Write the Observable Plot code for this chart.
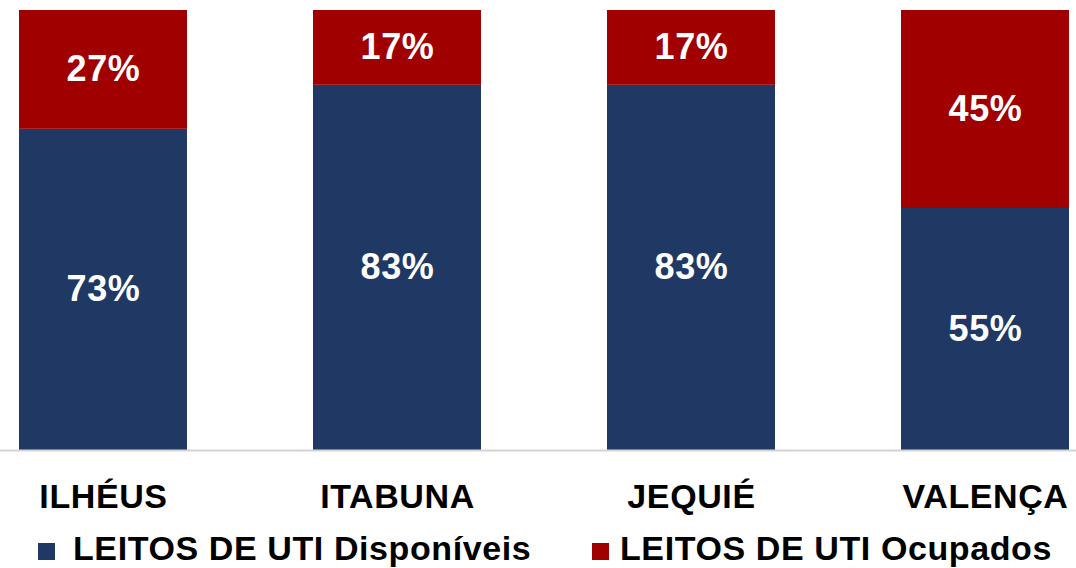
<!DOCTYPE html>
<html>
<head>
<meta charset="utf-8">
<script src="https://cdn.jsdelivr.net/npm/d3@7"></script>
<script src="https://cdn.jsdelivr.net/npm/@observablehq/plot@0.6"></script>
<style>
  html, body { margin: 0; padding: 0; background: #fff; }
  body { width: 1076px; height: 568px; overflow: hidden; font-family: "Liberation Sans", Arial, sans-serif; }
  #wrap { position: relative; width: 1076px; height: 568px; }
  #legend { position: absolute; left: 0; top: 520px; width: 1076px; height: 48px; }
  .sw { position: absolute; width: 17px; height: 17px; top: 543px; }
  .lt { position: absolute; top: 531px; font-size: 34px; line-height: 34px; font-weight: bold; letter-spacing: 0.6px; color: #000; white-space: nowrap; }
</style>
</head>
<body>
<div id="wrap"></div>
<script>
const cities = ["ILHÉUS", "ITABUNA", "JEQUIÉ", "VALENÇA"];
const seriesNames = ["LEITOS DE UTI Disponíveis", "LEITOS DE UTI Ocupados"];
const disponiveis = [73, 83, 83, 55];
const ocupados = [27, 17, 17, 45];
const colors = ["#203864", "#A00000"];

const rows = [];
cities.forEach((c, i) => {
  rows.push({city: c, series: seriesNames[0], value: disponiveis[i]});
  rows.push({city: c, series: seriesNames[1], value: ocupados[i]});
});

const chart = Plot.plot({
  width: 1076,
  height: 520,
  marginTop: 10,
  marginBottom: 70,
  marginLeft: 0,
  marginRight: 0,
  style: {fontFamily: "'Liberation Sans', Arial, sans-serif", color: "#000", background: "#fff", overflow: "visible"},
  x: {domain: cities, range: [18, 1069], paddingInner: 0.429, paddingOuter: 0, label: null},
  y: {domain: [0, 100], axis: null},
  color: {domain: seriesNames, range: colors},
  marks: [
    Plot.barY(rows, {x: "city", y: "value", fill: "series", order: seriesNames}),
    Plot.text(rows, Plot.stackY({x: "city", y: "value", z: "series", order: seriesNames,
      text: d => d.value + "%", fill: "#fff", fontSize: 36, fontWeight: "bold", letterSpacing: 0.5})),
    Plot.ruleY([0], {stroke: "#d4d4d4", strokeWidth: 2}),
    Plot.axisX({tickSize: 0, tickPadding: 33, fontSize: 34, fontWeight: "bold", fill: "#000", label: null})
  ]
});
chart.style.letterSpacing = "0.6px";
const wrap = document.getElementById("wrap");
wrap.appendChild(chart);

const legend = document.createElement("div");
const items = [
  {name: seriesNames[0], color: colors[0], sx: 38, tx: 73},
  {name: seriesNames[1], color: colors[1], sx: 592, tx: 620}
];
items.forEach(it => {
  const sw = document.createElement("div");
  sw.className = "sw";
  sw.style.left = it.sx + "px";
  sw.style.background = it.color;
  wrap.appendChild(sw);
  const t = document.createElement("div");
  t.className = "lt";
  t.style.left = it.tx + "px";
  t.textContent = it.name;
  wrap.appendChild(t);
});
</script>
</body>
</html>
